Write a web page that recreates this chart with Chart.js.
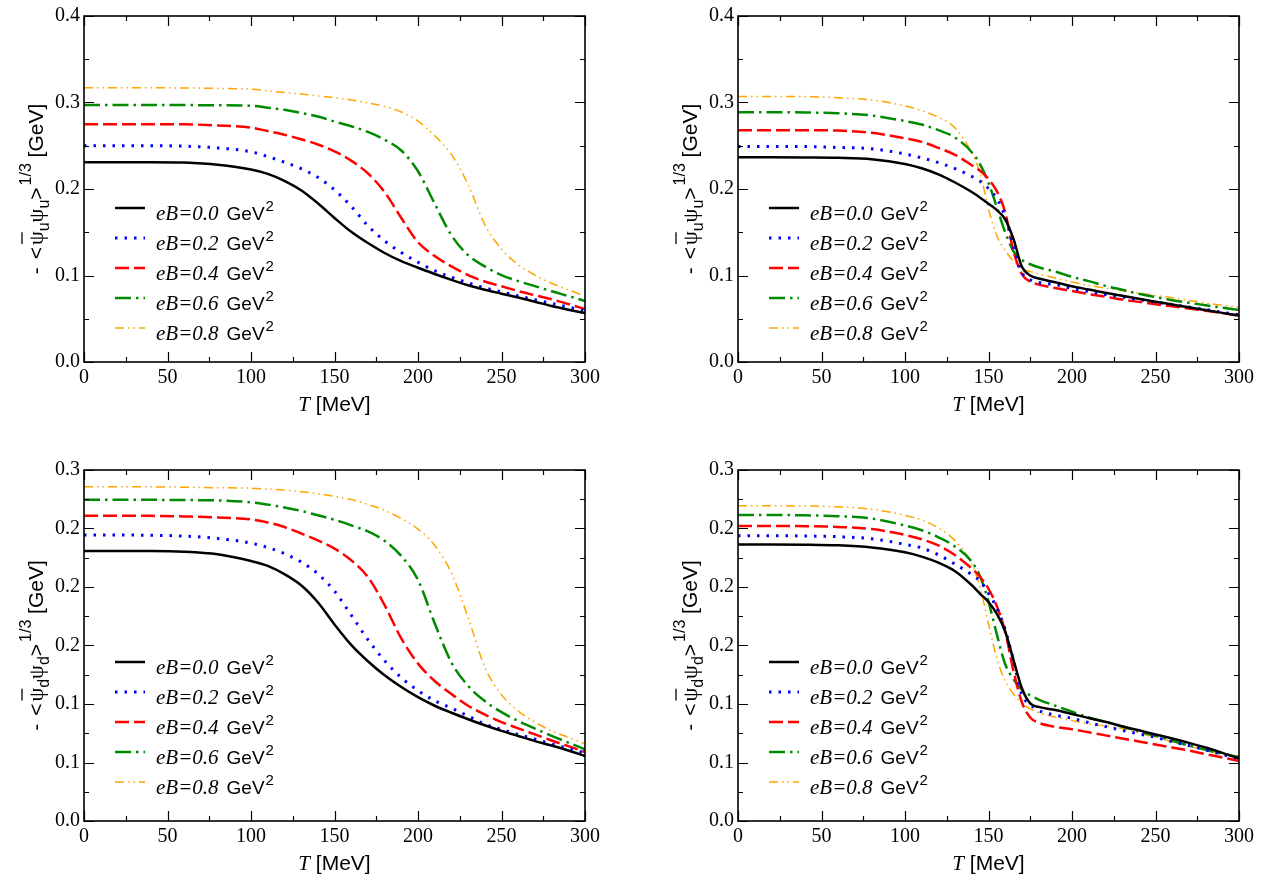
<!DOCTYPE html>
<html>
<head>
<meta charset="utf-8">
<script src="https://cdn.jsdelivr.net/npm/chart.js@4.4.0/dist/chart.umd.min.js"></script>
<style>
  body { margin: 0; background: #fff; }
  #wrap { position: relative; width: 1273px; height: 879px; }
  #wrap canvas { position: absolute; }
</style>
</head>
<body>
<div id="wrap">
  <canvas id="c1" width="636" height="440" style="left:0;top:0"></canvas>
  <canvas id="c2" width="618" height="440" style="left:655px;top:0"></canvas>
  <canvas id="c3" width="636" height="439" style="left:0;top:440px"></canvas>
  <canvas id="c4" width="618" height="439" style="left:655px;top:440px"></canvas>
</div>
<script>
// temperature grids (MeV)
const T_LEFT = [0,20,40,60,80,100,110,120,130,140,150,160,170,180,190,200,210,220,230,240,250,260,270,280,290,300];
const T_RIGHT = [0,20,40,60,80,100,110,120,130,140,145,150,155,160,165,170,175,180,190,200,210,220,230,240,250,260,270,280,290,300];

const EB_VALUES = ['0.0', '0.2', '0.4', '0.6', '0.8'];

const X_TICKS = ['0', '50', '100', '150', '200', '250', '300'];
const Y_TICKS_TOP = ['0.0', '0.1', '0.2', '0.3', '0.4'];
const Y_TICKS_BOTTOM = ['0.0', '0.1', '0.1', '0.2', '0.2', '0.2', '0.3'];

// top-left: u quark
const uLeft00 = [.231,.231,.231,.2305,.228,.2225,.2175,.2095,.1985,.1835,.1665,.1505,.1375,.126,.1165,.109,.1017,.095,.0888,.0836,.079,.0745,.0697,.0648,.0605,.0565];
const uLeft02 = [.25,.25,.25,.2495,.2475,.243,.2375,.231,.2235,.2135,.199,.180,.1575,.140,.1265,.1153,.1055,.098,.0915,.0857,.081,.0763,.072,.0677,.0635,.0592];
const uLeft04 = [.275,.275,.275,.2748,.2735,.271,.267,.2628,.2575,.2515,.2435,.2328,.218,.1965,.1665,.1385,.1225,.1105,.1005,.093,.0875,.082,.0772,.0725,.067,.0612];
const uLeft06 = [.297,.297,.297,.297,.2968,.2962,.294,.2915,.288,.2838,.278,.2725,.266,.257,.2445,.2205,.183,.1465,.1235,.1105,.1005,.0935,.0877,.0818,.0763,.0706];
const uLeft08 = [.317,.317,.317,.3168,.3163,.3154,.3135,.3115,.3097,.3077,.3055,.303,.2995,.2953,.289,.2785,.2615,.240,.205,.159,.1305,.1125,.1005,.091,.0835,.0762];

// top-right: u quark
const uRight00 = [.2366,.2366,.2364,.236,.2345,.229,.224,.217,.2075,.1965,.190,.183,.1755,.165,.142,.110,.100,.0965,.0922,.0875,.0838,.080,.0767,.0732,.0697,.0665,.0632,.0600,.0568,.0537];
const uRight02 = [.249,.249,.249,.248,.2465,.2405,.236,.2305,.2235,.2145,.209,.2005,.189,.168,.133,.1035,.095,.092,.0895,.085,.0815,.078,.0752,.0722,.0692,.0665,.0635,.0607,.0575,.0545];
const uRight04 = [.268,.268,.268,.2675,.265,.2585,.2545,.2475,.2395,.2275,.221,.2115,.1975,.173,.128,.1015,.093,.0895,.0855,.082,.0785,.0755,.0722,.0695,.0668,.0643,.0618,.0593,.0565,.0537];
const uRight06 = [.2888,.2888,.2885,.2875,.285,.2785,.2745,.268,.2595,.2425,.2285,.207,.179,.150,.128,.118,.113,.1095,.1045,.0985,.0935,.088,.0835,.0788,.075,.0715,.0685,.0655,.0628,.0602];
const uRight08 = [.307,.307,.3068,.3055,.303,.296,.2905,.283,.2705,.2415,.218,.177,.146,.129,.1165,.108,.1045,.102,.097,.0925,.0885,.0855,.0827,.0797,.077,.0742,.0712,.0683,.0655,.0632];

// bottom-left: d quark
const dLeft00 = [.2307,.2307,.2307,.2302,.228,.2222,.218,.211,.2015,.187,.168,.1505,.1365,.1245,.1145,.1058,.0985,.0925,.087,.0818,.077,.0727,.0683,.0645,.0603,.0555];
const dLeft02 = [.2444,.2444,.2442,.2435,.2415,.2375,.2338,.2285,.2215,.2113,.1965,.176,.155,.137,.1225,.1115,.1028,.0965,.0898,.0828,.0783,.074,.07,.0658,.062,.0582];
const dLeft04 = [.2609,.2609,.2608,.2603,.2595,.2577,.2552,.2513,.2458,.2398,.2328,.2228,.2085,.1845,.156,.1345,.1197,.1085,.0985,.091,.0845,.0792,.074,.0688,.064,.059];
const dLeft06 = [.2746,.2746,.2745,.2743,.274,.2724,.2704,.268,.265,.2613,.2575,.2527,.2475,.2395,.2265,.206,.169,.1355,.1155,.1025,.093,.0855,.079,.0728,.067,.0612];
const dLeft08 = [.2857,.2857,.2856,.2853,.2848,.2845,.2837,.2828,.2815,.2798,.2775,.2747,.2705,.2655,.2585,.2495,.2355,.212,.174,.1315,.108,.094,.0845,.077,.0715,.066];

// bottom-right: d quark
const dRight00 = [.2364,.2364,.2362,.2356,.2338,.2297,.226,.2208,.2135,.2015,.1942,.1872,.177,.162,.1375,.1135,.1005,.0975,.0948,.0915,.088,.0848,.081,.0775,.074,.0705,.0668,.0628,.0582,.0534];
const dRight02 = [.2438,.2438,.2436,.243,.2412,.2365,.2333,.2275,.2195,.2105,.205,.1945,.182,.1635,.137,.108,.0995,.0945,.0905,.0878,.084,.0808,.0775,.0745,.0715,.0678,.0645,.0607,.0568,.0534];
const dRight04 = [.2521,.2521,.252,.2513,.2495,.2445,.2408,.2355,.2272,.2158,.2085,.1985,.1835,.162,.128,.1015,.0885,.084,.0805,.0785,.0758,.0732,.0705,.068,.0653,.0628,.0602,.0572,.0543,.0513];
const dRight06 = [.2615,.2615,.2613,.2605,.2585,.2525,.2485,.2425,.2345,.2215,.209,.1875,.1595,.134,.121,.112,.1075,.1038,.0985,.0935,.0885,.0848,.0808,.0768,.0728,.0685,.0645,.0608,.0575,.0548];
const dRight08 = [.2695,.2695,.2692,.2685,.2665,.2612,.2572,.2505,.2395,.2195,.1995,.1685,.139,.1195,.1085,.1005,.0958,.0925,.0888,.0858,.083,.0812,.079,.0752,.0715,.0678,.064,.0605,.0572,.0548];

const COLORS = ['#000000', '#0000ff', '#ff0000', '#008a00', '#ffa500'];
const WIDTHS = [2.5, 3, 2.5, 2.5, 1.5];
const DASHES = [[], [2.5, 7], [14, 5], [16, 5, 2.5, 5], [9, 4, 1.5, 4, 1.5, 4]];

const SERIF = "'Liberation Serif', 'Times New Roman', serif";
const SANS = "'Liberation Sans', Arial, sans-serif";

Chart.defaults.font.family = SERIF;
Chart.defaults.font.size = 20;
Chart.defaults.color = '#000';

function drawRich(ctx, parts, x, y) {
  for (const p of parts) {
    ctx.font = p.font;
    ctx.fillText(p.t, x, y + (p.dy || 0));
    x += ctx.measureText(p.t).width + (p.dx || 0);
  }
  return x;
}
function richWidth(ctx, parts) {
  let w = 0;
  for (const p of parts) { ctx.font = p.font; w += ctx.measureText(p.t).width + (p.dx || 0); }
  return w;
}

const decor = {
  id: 'decor',
  afterDraw(chart, args, opts) {
    const { ctx, chartArea: a, scales: { x, y } } = chart;
    ctx.save();
    ctx.strokeStyle = '#000';
    ctx.fillStyle = '#000';
    ctx.lineWidth = 1.6;
    ctx.setLineDash([]);
    ctx.strokeRect(a.left, a.top, a.right - a.left, a.bottom - a.top);

    // inward ticks on all four sides
    ctx.lineWidth = 1.2;
    ctx.beginPath();
    for (let v = 0; v <= 300; v += 25) {
      const px = Math.round(x.getPixelForValue(v)) + 0.5;
      const len = v % 50 === 0 ? 10 : 5;
      ctx.moveTo(px, a.bottom); ctx.lineTo(px, a.bottom - len);
      ctx.moveTo(px, a.top); ctx.lineTo(px, a.top + len);
    }
    const n = Math.round(opts.ymax / opts.minor);
    for (let k = 0; k <= n; k++) {
      const py = Math.round(y.getPixelForValue(k * opts.minor)) + 0.5;
      const len = k % 2 === 0 ? 10 : 5;
      ctx.moveTo(a.left, py); ctx.lineTo(a.left + len, py);
      ctx.moveTo(a.right, py); ctx.lineTo(a.right - len, py);
    }
    ctx.stroke();

    // legend
    chart.data.datasets.forEach((ds, i) => {
      const y0 = a.top + 192 + 30 * i;
      const x0 = a.left + 31;
      ctx.strokeStyle = ds.borderColor;
      ctx.lineWidth = ds.borderWidth;
      ctx.setLineDash(ds.borderDash);
      ctx.beginPath(); ctx.moveTo(x0, y0); ctx.lineTo(x0 + 30, y0); ctx.stroke();
      ctx.setLineDash([]);
      ctx.textAlign = 'left';
      ctx.textBaseline = 'alphabetic';
      drawRich(ctx, [
        { t: 'eB=' + EB_VALUES[i], font: 'italic 21px ' + SERIF, dx: 8 },
        { t: 'GeV', font: '19px ' + SANS, dx: 1 },
        { t: '2', font: '15px ' + SANS, dy: -9 }
      ], x0 + 41, y0 + 12);
    });

    // x title
    const xt = [
      { t: 'T', font: 'italic 21px ' + SERIF },
      { t: ' [MeV]', font: '21px ' + SANS }
    ];
    const cx = (a.left + a.right) / 2;
    drawRich(ctx, xt, cx - richWidth(ctx, xt) / 2, a.bottom + 49);

    // y title, rotated
    const q = opts.quark;
    const yt = [
      { t: '-', font: '21px ' + SANS, dx: 8 },
      { t: '<', font: '21px ' + SANS, dx: 2 },
      { t: '\u03c8', font: '22px ' + SERIF },
      { t: q, font: '16px ' + SANS, dy: 6 },
      { t: '\u03c8', font: '22px ' + SERIF },
      { t: q, font: '16px ' + SANS, dy: 6 },
      { t: '>', font: '21px ' + SANS, dx: 2 },
      { t: '1/3', font: '16px ' + SANS, dy: -12 },
      { t: ' [GeV]', font: '21px ' + SANS }
    ];
    ctx.save();
    ctx.translate(a.left - 41, (a.top + a.bottom) / 2);
    ctx.rotate(-Math.PI / 2);
    const w = richWidth(ctx, yt);
    const start = -w / 2;
    drawRich(ctx, yt, start, 0);
    // bar over the first psi
    ctx.font = '21px ' + SANS;
    const bx = start + ctx.measureText('-').width + 8 + ctx.measureText('<').width + 2;
    ctx.font = '22px ' + SERIF;
    const bw = ctx.measureText('\u03c8').width;
    ctx.lineWidth = 1.3;
    ctx.strokeStyle = '#000';
    ctx.beginPath(); ctx.moveTo(bx + 1, -21); ctx.lineTo(bx + bw - 1, -21); ctx.stroke();
    ctx.restore();

    ctx.restore();
  }
};

function makeChart(id, T, series, cfg) {
  new Chart(document.getElementById(id), {
    type: 'line',
    data: {
      datasets: series.map((vals, i) => ({
        label: 'eB=' + EB_VALUES[i] + ' GeV\u00b2',
        data: T.map((t, j) => ({ x: t, y: vals[j] })),
        borderColor: COLORS[i],
        borderWidth: WIDTHS[i],
        borderDash: DASHES[i],
        pointRadius: 0,
        cubicInterpolationMode: 'monotone',
        fill: false
      }))
    },
    options: {
      responsive: false,
      animation: false,
      events: [],
      layout: { padding: cfg.padding },
      plugins: {
        legend: { display: false },
        tooltip: { enabled: false },
        decor: { ymax: cfg.ymax, minor: cfg.minor, quark: cfg.quark }
      },
      scales: {
        x: {
          type: 'linear', min: 0, max: 300,
          grid: { display: false, drawTicks: false },
          border: { display: false },
          ticks: {
            stepSize: 50, padding: 4, color: '#000', maxRotation: 0, autoSkip: false,
            font: { family: SERIF, size: 20 },
            callback: (v, i) => X_TICKS[i]
          },
          afterFit: s => { s.height = cfg.xh; }
        },
        y: {
          min: 0, max: cfg.ymax,
          grid: { display: false, drawTicks: false },
          border: { display: false },
          ticks: {
            stepSize: cfg.ystep, padding: 4, color: '#000', autoSkip: false,
            font: { family: SERIF, size: 20 },
            callback: (v, i) => cfg.ylabels[i]
          },
          afterFit: s => { s.width = cfg.yw; }
        }
      }
    },
    plugins: [decor]
  });
}

makeChart('c1', T_LEFT, [uLeft00, uLeft02, uLeft04, uLeft06, uLeft08],
  { padding: { top: 12, right: 51, left: 0, bottom: 0 }, yw: 84, xh: 78, ymax: 0.4, ystep: 0.1, minor: 0.05, ylabels: Y_TICKS_TOP, quark: 'u' });
makeChart('c2', T_RIGHT, [uRight00, uRight02, uRight04, uRight06, uRight08],
  { padding: { top: 12, right: 34, left: 0, bottom: 0 }, yw: 83, xh: 78, ymax: 0.4, ystep: 0.1, minor: 0.05, ylabels: Y_TICKS_TOP, quark: 'u' });
makeChart('c3', T_LEFT, [dLeft00, dLeft02, dLeft04, dLeft06, dLeft08],
  { padding: { top: 30, right: 51, left: 0, bottom: 0 }, yw: 84, xh: 58, ymax: 0.3, ystep: 0.05, minor: 0.025, ylabels: Y_TICKS_BOTTOM, quark: 'd' });
makeChart('c4', T_RIGHT, [dRight00, dRight02, dRight04, dRight06, dRight08],
  { padding: { top: 30, right: 34, left: 0, bottom: 0 }, yw: 83, xh: 58, ymax: 0.3, ystep: 0.05, minor: 0.025, ylabels: Y_TICKS_BOTTOM, quark: 'd' });
</script>
</body>
</html>
